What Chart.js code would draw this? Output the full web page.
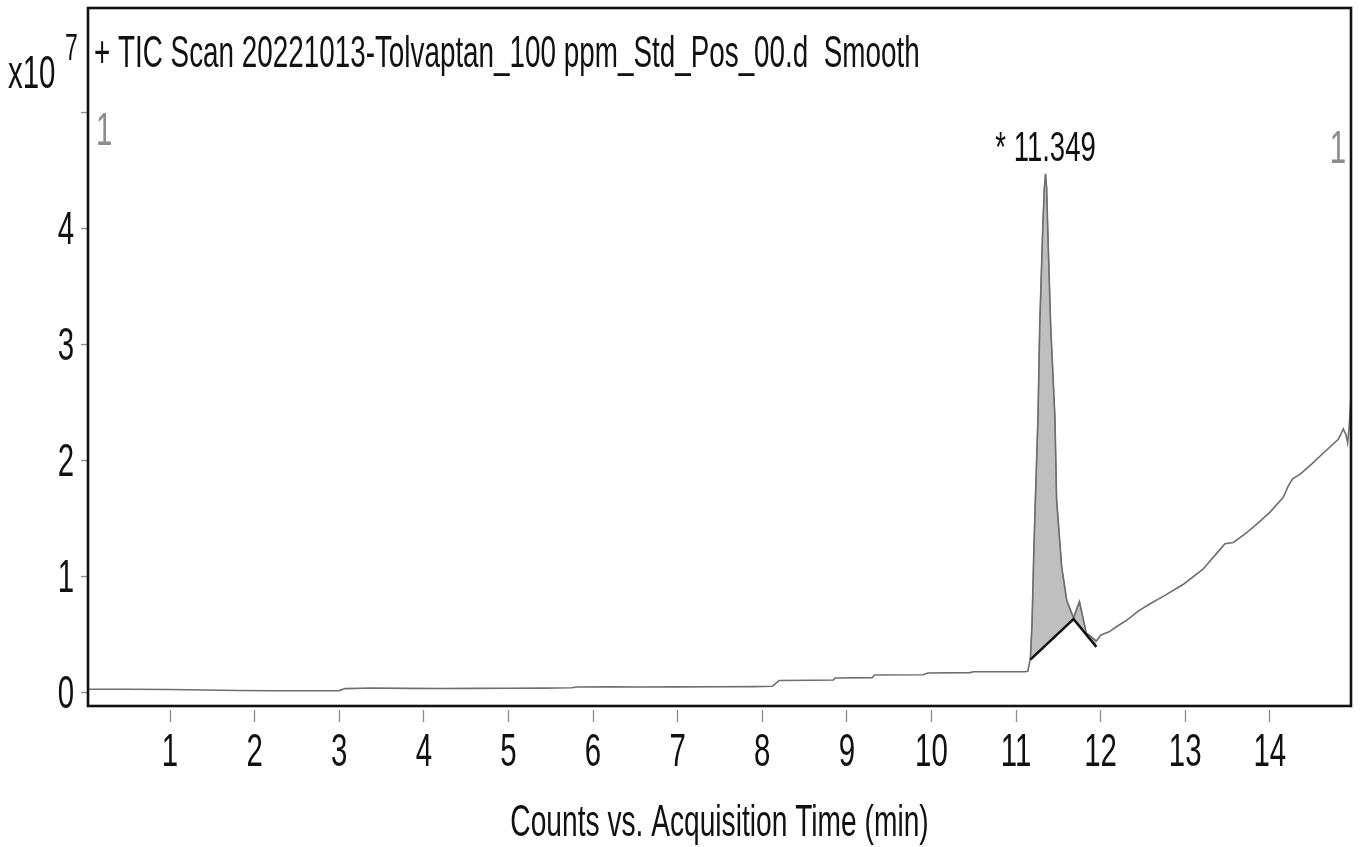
<!DOCTYPE html>
<html>
<head>
<meta charset="utf-8">
<title>TIC Scan Tolvaptan</title>
<script src="https://cdn.jsdelivr.net/npm/chart.js@4.4.1/dist/chart.umd.min.js"></script>
<style>
  html, body { margin: 0; padding: 0; background: #fff; }
  #wrap { width: 1362px; height: 847px; position: relative; }
</style>
</head>
<body>
<div id="wrap"><canvas id="chart"></canvas></div>
<script>
"use strict";

// TIC trace: acquisition time (min) and counts (x10^7)
const timeMin = [0.03, 0.5, 1.0, 1.4, 1.8, 2.2, 2.6, 3.0, 3.07, 3.4, 3.8, 4.2, 4.6, 5.0, 5.4, 5.75, 5.8,
  6.2, 6.6, 7.0, 7.5, 7.9, 8.12, 8.16, 8.2, 8.6, 8.84, 8.86, 9.3, 9.33, 9.9, 9.96, 10.45, 10.5, 11.1, 11.14,
  11.17, 11.19, 11.21, 11.235, 11.26, 11.28, 11.316, 11.335, 11.349, 11.362, 11.375, 11.41, 11.46, 11.48,
  11.54, 11.60, 11.68, 11.75, 11.83, 11.90, 11.95, 12.0, 12.1, 12.2, 12.31, 12.45, 12.58, 12.75, 12.98,
  13.21, 13.40, 13.47, 13.57, 13.7, 13.85, 14.0, 14.16, 14.22, 14.27, 14.36, 14.5, 14.63, 14.81, 14.87,
  14.9, 14.92, 14.94, 14.96];
const countsE7 = [0.025, 0.025, 0.022, 0.018, 0.014, 0.012, 0.012, 0.013, 0.030, 0.035, 0.032, 0.031, 0.032, 0.033, 0.034, 0.037, 0.044,
  0.045, 0.044, 0.045, 0.046, 0.047, 0.050, 0.075, 0.100, 0.102, 0.104, 0.122, 0.125, 0.148, 0.150, 0.165, 0.168, 0.176, 0.176, 0.18,
  0.29, 0.6, 1.2, 1.8, 2.37, 3.15, 4.0, 4.35, 4.47, 4.35, 4.0, 3.15, 2.37, 1.66,
  1.08, 0.79, 0.64, 0.78, 0.51, 0.47, 0.44, 0.49, 0.52, 0.57, 0.62, 0.70, 0.76, 0.83, 0.93,
  1.06, 1.22, 1.28, 1.29, 1.36, 1.45, 1.55, 1.68, 1.78, 1.84, 1.88, 1.97, 2.06, 2.18, 2.27,
  2.22, 2.15, 2.3, 2.55];

// integration baseline of the main peak
const baseTime = [11.17, 11.68, 11.95];
const baseCounts = [0.28, 0.63, 0.39];

const peakRT = 11.349;
const peakHeight = 4.47;

const xTicks = [1, 2, 3, 4, 5, 6, 7, 8, 9, 10, 11, 12, 13, 14];
const yTicks = [0, 1, 2, 3, 4, 5];
const yTickLabels = ["0", "1", "2", "3", "4", ""];

const titleText = "+ TIC Scan 20221013-Tolvaptan_100 ppm_Std_Pos_00.d  Smooth";
const xTitle = "Counts vs. Acquisition Time (min)";

const tracePoints = timeMin.map((t, i) => ({ x: t, y: countsE7[i] }));
const peakPoints = tracePoints.filter(p => p.x >= baseTime[0] && p.x <= baseTime[baseTime.length - 1]);
const basePoints = baseTime.map((t, i) => ({ x: t, y: baseCounts[i] }));

// narrow text: the labels are drawn squeezed horizontally
const SX = 0.64;
const FONT = '"Liberation Sans", Arial, sans-serif';

function narrowText(ctx, text, x, y, size, align, color) {
    ctx.save();
    ctx.font = size + "px " + FONT;
    ctx.fillStyle = color || "#111";
    ctx.textBaseline = "alphabetic";
    ctx.textAlign = "left";
    const w = ctx.measureText(text).width * SX;
    const left = align === "center" ? x - w / 2 : (align === "right" ? x - w : x);
    ctx.translate(left, y);
    ctx.scale(SX, 1);
    ctx.fillText(text, 0, 0);
    ctx.restore();
}

const textPlugin = {
    id: "ticText",
    afterDraw(chart) {
        const ctx = chart.ctx;
        const area = chart.chartArea;
        const xs = chart.scales.x;
        const ys = chart.scales.y;

        // frame
        ctx.save();
        ctx.strokeStyle = "#111";
        ctx.lineWidth = 2.6;
        ctx.strokeRect(area.left, area.top, area.right - area.left, area.bottom - area.top);
        ctx.restore();

        xTicks.forEach(v => narrowText(ctx, String(v), xs.getPixelForValue(v), 766, 46, "center"));
        yTicks.forEach((v, i) => {
            if (yTickLabels[i]) narrowText(ctx, yTickLabels[i], 74, ys.getPixelForValue(v) + 16, 46, "right");
        });

        narrowText(ctx, titleText, 94, 67, 43.5, "left");
        narrowText(ctx, xTitle, (area.left + area.right) / 2, 836, 44, "center");
        narrowText(ctx, "* " + peakRT.toFixed(3), xs.getPixelForValue(peakRT), ys.getPixelForValue(peakHeight) - 13, 43, "center");

        narrowText(ctx, "x10", 8, 88, 46, "left");
        narrowText(ctx, "7", 65, 60, 36, "left");

        narrowText(ctx, "1", area.left + 8, 145, 46, "left", "#8c8c8c");
        narrowText(ctx, "1", area.right - 5, 163, 46, "right", "#8c8c8c");
    }
};

new Chart(document.getElementById("chart"), {
    type: "line",
    data: {
        datasets: [
            {
                data: peakPoints,
                borderColor: "#8a8a8a",
                borderWidth: 1.2,
                backgroundColor: "#bfbfbf",
                fill: 2,
                pointRadius: 0,
                order: 3
            },
            {
                data: tracePoints,
                borderColor: "#6e6e6e",
                borderWidth: 1.6,
                pointRadius: 0,
                fill: false,
                order: 2
            },
            {
                data: basePoints,
                borderColor: "#111",
                borderWidth: 2.6,
                pointRadius: 0,
                fill: false,
                order: 1
            }
        ]
    },
    options: {
        responsive: true,
        maintainAspectRatio: false,
        animation: false,
        layout: { padding: { top: 8, right: 11, left: 0, bottom: 0 } },
        plugins: {
            legend: { display: false },
            tooltip: { enabled: false }
        },
        scales: {
            x: {
                type: "linear",
                min: 0.03,
                max: 14.96,
                afterBuildTicks: scale => { scale.ticks = xTicks.map(v => ({ value: v })); },
                afterFit: scale => { scale.height = 141; },
                ticks: { display: false },
                border: { display: false },
                grid: {
                    drawOnChartArea: false,
                    tickLength: 16,
                    tickColor: "#8c8c8c",
                    tickWidth: 1.3,
                    tickBorderDash: [0, 4, 12, 10]
                }
            },
            y: {
                type: "linear",
                min: -0.12,
                max: 5.9,
                afterBuildTicks: scale => { scale.ticks = yTicks.map(v => ({ value: v })); },
                afterFit: scale => { scale.width = 88; },
                ticks: { display: false },
                border: { display: false },
                grid: {
                    drawOnChartArea: false,
                    tickLength: 7,
                    tickColor: "#8c8c8c",
                    tickWidth: 1.3
                }
            }
        }
    },
    plugins: [textPlugin]
});
</script>
</body>
</html>
